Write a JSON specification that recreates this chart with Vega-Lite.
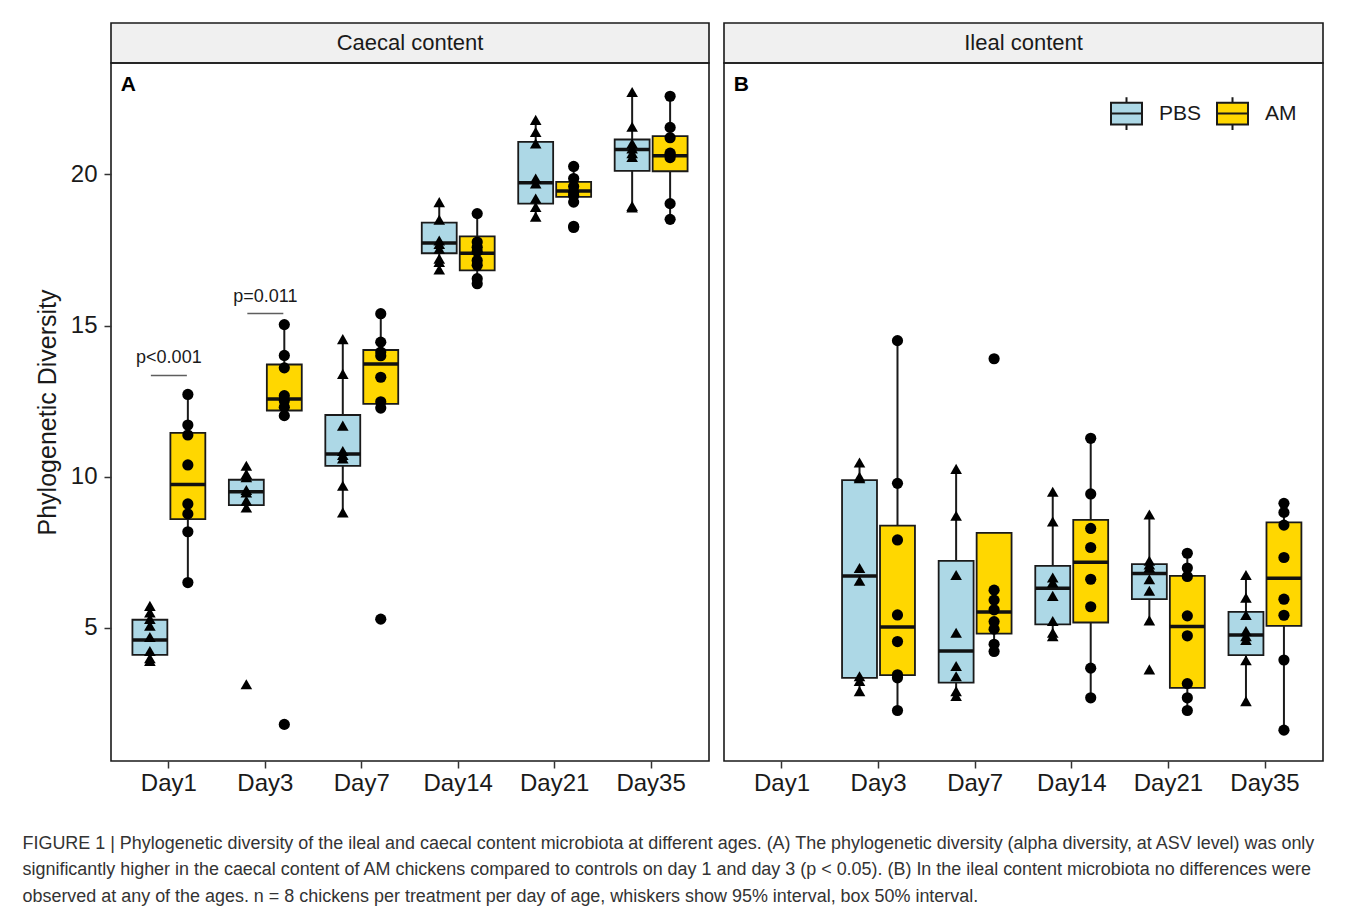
{
  "$schema": "https://vega.github.io/schema/vega-lite/v6.json",
  "background": "white",
  "padding": {"left": 22, "top": 22, "right": 30, "bottom": 5},
  "config": {
    "font": "Liberation Sans",
    "view": {"stroke": "#1a1a1a", "strokeWidth": 1.6},
    "axis": {"grid": false, "domain": false, "tickColor": "#333333", "tickWidth": 1.5, "tickSize": 7, "labelColor": "#1a1a1a", "labelFont": "Liberation Sans", "titleFont": "Liberation Sans"},
    "axisY": {"tickCount": 5, "labelFontSize": 24, "labelPadding": 7, "tickSize": 7, "titleFontSize": 25, "titleFontWeight": "normal", "titleColor": "#1a1a1a", "titlePadding": 10},
    "legend": {"labelFont": "Liberation Sans"}
  },
  "title": {
    "text": [
      "FIGURE 1 | Phylogenetic diversity of the ileal and caecal content microbiota at different ages. (A) The phylogenetic diversity (alpha diversity, at ASV level) was only",
      "significantly higher in the caecal content of AM chickens compared to controls on day 1 and day 3 (p < 0.05). (B) In the ileal content microbiota no differences were",
      "observed at any of the ages. n = 8 chickens per treatment per day of age, whiskers show 95% interval, box 50% interval."
    ],
    "orient": "bottom",
    "anchor": "start",
    "frame": "bounds",
    "font": "Liberation Sans",
    "fontSize": 17.95,
    "fontWeight": "normal",
    "color": "#333333",
    "lineHeight": 26.7,
    "offset": 39,
    "dx": -12
  },
  "datasets": {
    "box": [
      {"panel": "A", "day": "Day1", "group": "PBS", "lo": 3.91, "q1": 4.11, "med": 4.60, "q3": 5.27, "hi": 5.73},
      {"panel": "A", "day": "Day1", "group": "AM", "lo": 6.50, "q1": 8.60, "med": 9.74, "q3": 11.45, "hi": 12.72},
      {"panel": "A", "day": "Day3", "group": "PBS", "lo": 8.98, "q1": 9.06, "med": 9.50, "q3": 9.90, "hi": 10.36},
      {"panel": "A", "day": "Day3", "group": "AM", "lo": 12.02, "q1": 12.19, "med": 12.57, "q3": 13.71, "hi": 15.03},
      {"panel": "A", "day": "Day7", "group": "PBS", "lo": 8.82, "q1": 10.36, "med": 10.75, "q3": 12.04, "hi": 14.55},
      {"panel": "A", "day": "Day7", "group": "AM", "lo": 12.27, "q1": 12.41, "med": 13.73, "q3": 14.19, "hi": 15.39},
      {"panel": "A", "day": "Day14", "group": "PBS", "lo": 16.85, "q1": 17.39, "med": 17.73, "q3": 18.40, "hi": 19.08},
      {"panel": "A", "day": "Day14", "group": "AM", "lo": 16.38, "q1": 16.82, "med": 17.39, "q3": 17.95, "hi": 18.70},
      {"panel": "A", "day": "Day21", "group": "PBS", "lo": 18.60, "q1": 19.03, "med": 19.72, "q3": 21.07, "hi": 21.80},
      {"panel": "A", "day": "Day21", "group": "AM", "lo": 19.08, "q1": 19.25, "med": 19.45, "q3": 19.75, "hi": 20.26},
      {"panel": "A", "day": "Day35", "group": "PBS", "lo": 18.90, "q1": 20.11, "med": 20.82, "q3": 21.15, "hi": 22.72},
      {"panel": "A", "day": "Day35", "group": "AM", "lo": 18.51, "q1": 20.10, "med": 20.61, "q3": 21.26, "hi": 22.58},
      {"panel": "B", "day": "Day3", "group": "PBS", "lo": 2.91, "q1": 3.35, "med": 6.72, "q3": 9.89, "hi": 10.47},
      {"panel": "B", "day": "Day3", "group": "AM", "lo": 2.27, "q1": 3.44, "med": 5.03, "q3": 8.38, "hi": 14.50},
      {"panel": "B", "day": "Day7", "group": "PBS", "lo": 2.75, "q1": 3.19, "med": 4.24, "q3": 7.22, "hi": 10.26},
      {"panel": "B", "day": "Day7", "group": "AM", "lo": 4.22, "q1": 4.81, "med": 5.53, "q3": 8.14, "hi": 8.14},
      {"panel": "B", "day": "Day14", "group": "PBS", "lo": 4.73, "q1": 5.12, "med": 6.31, "q3": 7.05, "hi": 9.50},
      {"panel": "B", "day": "Day14", "group": "AM", "lo": 2.69, "q1": 5.18, "med": 7.17, "q3": 8.57, "hi": 11.27},
      {"panel": "B", "day": "Day21", "group": "PBS", "lo": 5.25, "q1": 5.95, "med": 6.80, "q3": 7.11, "hi": 8.75},
      {"panel": "B", "day": "Day21", "group": "AM", "lo": 2.27, "q1": 3.02, "med": 5.05, "q3": 6.72, "hi": 7.47},
      {"panel": "B", "day": "Day35", "group": "PBS", "lo": 2.58, "q1": 4.10, "med": 4.77, "q3": 5.53, "hi": 6.75},
      {"panel": "B", "day": "Day35", "group": "AM", "lo": 1.62, "q1": 5.07, "med": 6.64, "q3": 8.49, "hi": 9.12}
    ],
    "pts": [
      {"panel": "A", "day": "Day1", "group": "PBS", "value": 5.73},
      {"panel": "A", "day": "Day1", "group": "PBS", "value": 5.51},
      {"panel": "A", "day": "Day1", "group": "PBS", "value": 5.30},
      {"panel": "A", "day": "Day1", "group": "PBS", "value": 5.07},
      {"panel": "A", "day": "Day1", "group": "PBS", "value": 4.70},
      {"panel": "A", "day": "Day1", "group": "PBS", "value": 4.24},
      {"panel": "A", "day": "Day1", "group": "PBS", "value": 4.00},
      {"panel": "A", "day": "Day1", "group": "PBS", "value": 3.91},
      {"panel": "A", "day": "Day1", "group": "AM", "value": 12.72},
      {"panel": "A", "day": "Day1", "group": "AM", "value": 11.71},
      {"panel": "A", "day": "Day1", "group": "AM", "value": 11.38},
      {"panel": "A", "day": "Day1", "group": "AM", "value": 10.39},
      {"panel": "A", "day": "Day1", "group": "AM", "value": 9.10},
      {"panel": "A", "day": "Day1", "group": "AM", "value": 8.77},
      {"panel": "A", "day": "Day1", "group": "AM", "value": 8.18},
      {"panel": "A", "day": "Day1", "group": "AM", "value": 6.50},
      {"panel": "A", "day": "Day3", "group": "PBS", "value": 10.36},
      {"panel": "A", "day": "Day3", "group": "PBS", "value": 10.09},
      {"panel": "A", "day": "Day3", "group": "PBS", "value": 9.98},
      {"panel": "A", "day": "Day3", "group": "PBS", "value": 9.56},
      {"panel": "A", "day": "Day3", "group": "PBS", "value": 9.48},
      {"panel": "A", "day": "Day3", "group": "PBS", "value": 9.21},
      {"panel": "A", "day": "Day3", "group": "PBS", "value": 8.98},
      {"panel": "A", "day": "Day3", "group": "PBS", "value": 3.14},
      {"panel": "A", "day": "Day3", "group": "AM", "value": 15.03},
      {"panel": "A", "day": "Day3", "group": "AM", "value": 14.01},
      {"panel": "A", "day": "Day3", "group": "AM", "value": 13.60},
      {"panel": "A", "day": "Day3", "group": "AM", "value": 12.68},
      {"panel": "A", "day": "Day3", "group": "AM", "value": 12.52},
      {"panel": "A", "day": "Day3", "group": "AM", "value": 12.30},
      {"panel": "A", "day": "Day3", "group": "AM", "value": 12.02},
      {"panel": "A", "day": "Day3", "group": "AM", "value": 1.81},
      {"panel": "A", "day": "Day7", "group": "PBS", "value": 14.55},
      {"panel": "A", "day": "Day7", "group": "PBS", "value": 13.40},
      {"panel": "A", "day": "Day7", "group": "PBS", "value": 11.69},
      {"panel": "A", "day": "Day7", "group": "PBS", "value": 10.85},
      {"panel": "A", "day": "Day7", "group": "PBS", "value": 10.72},
      {"panel": "A", "day": "Day7", "group": "PBS", "value": 10.60},
      {"panel": "A", "day": "Day7", "group": "PBS", "value": 9.70},
      {"panel": "A", "day": "Day7", "group": "PBS", "value": 8.82},
      {"panel": "A", "day": "Day7", "group": "AM", "value": 15.39},
      {"panel": "A", "day": "Day7", "group": "AM", "value": 14.45},
      {"panel": "A", "day": "Day7", "group": "AM", "value": 14.12},
      {"panel": "A", "day": "Day7", "group": "AM", "value": 14.00},
      {"panel": "A", "day": "Day7", "group": "AM", "value": 13.29},
      {"panel": "A", "day": "Day7", "group": "AM", "value": 12.48},
      {"panel": "A", "day": "Day7", "group": "AM", "value": 12.27},
      {"panel": "A", "day": "Day7", "group": "AM", "value": 5.29},
      {"panel": "A", "day": "Day14", "group": "PBS", "value": 19.08},
      {"panel": "A", "day": "Day14", "group": "PBS", "value": 18.50},
      {"panel": "A", "day": "Day14", "group": "PBS", "value": 17.81},
      {"panel": "A", "day": "Day14", "group": "PBS", "value": 17.70},
      {"panel": "A", "day": "Day14", "group": "PBS", "value": 17.54},
      {"panel": "A", "day": "Day14", "group": "PBS", "value": 17.21},
      {"panel": "A", "day": "Day14", "group": "PBS", "value": 17.10},
      {"panel": "A", "day": "Day14", "group": "PBS", "value": 16.85},
      {"panel": "A", "day": "Day14", "group": "AM", "value": 18.70},
      {"panel": "A", "day": "Day14", "group": "AM", "value": 17.76},
      {"panel": "A", "day": "Day14", "group": "AM", "value": 17.59},
      {"panel": "A", "day": "Day14", "group": "AM", "value": 17.45},
      {"panel": "A", "day": "Day14", "group": "AM", "value": 17.15},
      {"panel": "A", "day": "Day14", "group": "AM", "value": 16.99},
      {"panel": "A", "day": "Day14", "group": "AM", "value": 16.55},
      {"panel": "A", "day": "Day14", "group": "AM", "value": 16.38},
      {"panel": "A", "day": "Day21", "group": "PBS", "value": 21.80},
      {"panel": "A", "day": "Day21", "group": "PBS", "value": 21.40},
      {"panel": "A", "day": "Day21", "group": "PBS", "value": 21.02},
      {"panel": "A", "day": "Day21", "group": "PBS", "value": 19.86},
      {"panel": "A", "day": "Day21", "group": "PBS", "value": 19.70},
      {"panel": "A", "day": "Day21", "group": "PBS", "value": 19.20},
      {"panel": "A", "day": "Day21", "group": "PBS", "value": 18.92},
      {"panel": "A", "day": "Day21", "group": "PBS", "value": 18.60},
      {"panel": "A", "day": "Day21", "group": "AM", "value": 20.26},
      {"panel": "A", "day": "Day21", "group": "AM", "value": 19.86},
      {"panel": "A", "day": "Day21", "group": "AM", "value": 19.60},
      {"panel": "A", "day": "Day21", "group": "AM", "value": 19.40},
      {"panel": "A", "day": "Day21", "group": "AM", "value": 19.30},
      {"panel": "A", "day": "Day21", "group": "AM", "value": 19.08},
      {"panel": "A", "day": "Day21", "group": "AM", "value": 18.28},
      {"panel": "A", "day": "Day21", "group": "AM", "value": 18.24},
      {"panel": "A", "day": "Day35", "group": "PBS", "value": 22.72},
      {"panel": "A", "day": "Day35", "group": "PBS", "value": 21.57},
      {"panel": "A", "day": "Day35", "group": "PBS", "value": 21.02},
      {"panel": "A", "day": "Day35", "group": "PBS", "value": 20.85},
      {"panel": "A", "day": "Day35", "group": "PBS", "value": 20.70},
      {"panel": "A", "day": "Day35", "group": "PBS", "value": 20.57},
      {"panel": "A", "day": "Day35", "group": "PBS", "value": 18.95},
      {"panel": "A", "day": "Day35", "group": "PBS", "value": 18.90},
      {"panel": "A", "day": "Day35", "group": "AM", "value": 22.58},
      {"panel": "A", "day": "Day35", "group": "AM", "value": 21.55},
      {"panel": "A", "day": "Day35", "group": "AM", "value": 21.21},
      {"panel": "A", "day": "Day35", "group": "AM", "value": 20.70},
      {"panel": "A", "day": "Day35", "group": "AM", "value": 20.65},
      {"panel": "A", "day": "Day35", "group": "AM", "value": 20.55},
      {"panel": "A", "day": "Day35", "group": "AM", "value": 19.03},
      {"panel": "A", "day": "Day35", "group": "AM", "value": 18.51},
      {"panel": "B", "day": "Day3", "group": "PBS", "value": 10.47},
      {"panel": "B", "day": "Day3", "group": "PBS", "value": 10.00},
      {"panel": "B", "day": "Day3", "group": "PBS", "value": 9.95},
      {"panel": "B", "day": "Day3", "group": "PBS", "value": 6.98},
      {"panel": "B", "day": "Day3", "group": "PBS", "value": 6.56},
      {"panel": "B", "day": "Day3", "group": "PBS", "value": 3.40},
      {"panel": "B", "day": "Day3", "group": "PBS", "value": 3.25},
      {"panel": "B", "day": "Day3", "group": "PBS", "value": 2.91},
      {"panel": "B", "day": "Day3", "group": "AM", "value": 14.50},
      {"panel": "B", "day": "Day3", "group": "AM", "value": 9.78},
      {"panel": "B", "day": "Day3", "group": "AM", "value": 7.91},
      {"panel": "B", "day": "Day3", "group": "AM", "value": 5.43},
      {"panel": "B", "day": "Day3", "group": "AM", "value": 4.55},
      {"panel": "B", "day": "Day3", "group": "AM", "value": 3.45},
      {"panel": "B", "day": "Day3", "group": "AM", "value": 3.35},
      {"panel": "B", "day": "Day3", "group": "AM", "value": 2.27},
      {"panel": "B", "day": "Day7", "group": "PBS", "value": 10.26},
      {"panel": "B", "day": "Day7", "group": "PBS", "value": 8.71},
      {"panel": "B", "day": "Day7", "group": "PBS", "value": 6.75},
      {"panel": "B", "day": "Day7", "group": "PBS", "value": 4.84},
      {"panel": "B", "day": "Day7", "group": "PBS", "value": 3.74},
      {"panel": "B", "day": "Day7", "group": "PBS", "value": 3.40},
      {"panel": "B", "day": "Day7", "group": "PBS", "value": 2.91},
      {"panel": "B", "day": "Day7", "group": "PBS", "value": 2.75},
      {"panel": "B", "day": "Day7", "group": "AM", "value": 13.90},
      {"panel": "B", "day": "Day7", "group": "AM", "value": 6.25},
      {"panel": "B", "day": "Day7", "group": "AM", "value": 5.92},
      {"panel": "B", "day": "Day7", "group": "AM", "value": 5.60},
      {"panel": "B", "day": "Day7", "group": "AM", "value": 5.21},
      {"panel": "B", "day": "Day7", "group": "AM", "value": 4.96},
      {"panel": "B", "day": "Day7", "group": "AM", "value": 4.46},
      {"panel": "B", "day": "Day7", "group": "AM", "value": 4.22},
      {"panel": "B", "day": "Day14", "group": "PBS", "value": 9.50},
      {"panel": "B", "day": "Day14", "group": "PBS", "value": 8.52},
      {"panel": "B", "day": "Day14", "group": "PBS", "value": 6.67},
      {"panel": "B", "day": "Day14", "group": "PBS", "value": 6.50},
      {"panel": "B", "day": "Day14", "group": "PBS", "value": 6.06},
      {"panel": "B", "day": "Day14", "group": "PBS", "value": 5.23},
      {"panel": "B", "day": "Day14", "group": "PBS", "value": 4.84},
      {"panel": "B", "day": "Day14", "group": "PBS", "value": 4.73},
      {"panel": "B", "day": "Day14", "group": "AM", "value": 11.27},
      {"panel": "B", "day": "Day14", "group": "AM", "value": 9.43},
      {"panel": "B", "day": "Day14", "group": "AM", "value": 8.29},
      {"panel": "B", "day": "Day14", "group": "AM", "value": 7.66},
      {"panel": "B", "day": "Day14", "group": "AM", "value": 6.61},
      {"panel": "B", "day": "Day14", "group": "AM", "value": 5.70},
      {"panel": "B", "day": "Day14", "group": "AM", "value": 3.67},
      {"panel": "B", "day": "Day14", "group": "AM", "value": 2.69},
      {"panel": "B", "day": "Day21", "group": "PBS", "value": 8.75},
      {"panel": "B", "day": "Day21", "group": "PBS", "value": 7.22},
      {"panel": "B", "day": "Day21", "group": "PBS", "value": 7.10},
      {"panel": "B", "day": "Day21", "group": "PBS", "value": 7.00},
      {"panel": "B", "day": "Day21", "group": "PBS", "value": 6.61},
      {"panel": "B", "day": "Day21", "group": "PBS", "value": 6.23},
      {"panel": "B", "day": "Day21", "group": "PBS", "value": 5.25},
      {"panel": "B", "day": "Day21", "group": "PBS", "value": 3.63},
      {"panel": "B", "day": "Day21", "group": "AM", "value": 7.47},
      {"panel": "B", "day": "Day21", "group": "AM", "value": 6.98},
      {"panel": "B", "day": "Day21", "group": "AM", "value": 6.70},
      {"panel": "B", "day": "Day21", "group": "AM", "value": 5.40},
      {"panel": "B", "day": "Day21", "group": "AM", "value": 4.74},
      {"panel": "B", "day": "Day21", "group": "AM", "value": 3.16},
      {"panel": "B", "day": "Day21", "group": "AM", "value": 2.69},
      {"panel": "B", "day": "Day21", "group": "AM", "value": 2.27},
      {"panel": "B", "day": "Day35", "group": "PBS", "value": 6.75},
      {"panel": "B", "day": "Day35", "group": "PBS", "value": 6.00},
      {"panel": "B", "day": "Day35", "group": "PBS", "value": 5.43},
      {"panel": "B", "day": "Day35", "group": "PBS", "value": 4.90},
      {"panel": "B", "day": "Day35", "group": "PBS", "value": 4.73},
      {"panel": "B", "day": "Day35", "group": "PBS", "value": 4.60},
      {"panel": "B", "day": "Day35", "group": "PBS", "value": 3.93},
      {"panel": "B", "day": "Day35", "group": "PBS", "value": 2.58},
      {"panel": "B", "day": "Day35", "group": "AM", "value": 9.12},
      {"panel": "B", "day": "Day35", "group": "AM", "value": 8.82},
      {"panel": "B", "day": "Day35", "group": "AM", "value": 8.40},
      {"panel": "B", "day": "Day35", "group": "AM", "value": 7.33},
      {"panel": "B", "day": "Day35", "group": "AM", "value": 5.95},
      {"panel": "B", "day": "Day35", "group": "AM", "value": 5.42},
      {"panel": "B", "day": "Day35", "group": "AM", "value": 3.94},
      {"panel": "B", "day": "Day35", "group": "AM", "value": 1.62}
    ],
    "notes": [
      {"day": "Day1", "label": "p<0.001", "texty": 13.94, "liney": 13.35},
      {"day": "Day3", "label": "p=0.011", "texty": 15.93, "liney": 15.40}
    ]
  },
  "spacing": 13,
  "resolve": {"scale": {"y": "independent", "x": "independent", "fill": "independent"}, "legend": {"fill": "independent"}},
  "hconcat": [
    {
      "bounds": "flush",
      "spacing": 0,
      "resolve": {"scale": {"fill": "independent"}, "legend": {"fill": "independent"}},
      "vconcat": [
        {
          "width": 598,
          "height": 40,
          "data": {"values": [{"label": "Caecal content"}]},
          "view": {"fill": "#f0f0f0", "stroke": "#1a1a1a", "strokeWidth": 1.6},
          "mark": {"type": "text", "font": "Liberation Sans", "fontSize": 22, "color": "#1a1a1a", "baseline": "middle"},
          "encoding": {"text": {"field": "label", "type": "nominal"}}
        },
        {
          "width": 598,
          "height": 698,
          "encoding": {
            "x": {"field": "day", "type": "nominal", "title": null,
              "scale": {"domain": ["Day1", "Day3", "Day7", "Day14", "Day21", "Day35"], "paddingInner": 0, "paddingOuter": 0.1},
              "axis": {"labelFontSize": 24, "labelAngle": 0, "labelPadding": 3, "tickSize": 7}}
          },
          "layer": [
            {
              "data": {"name": "box"},
              "transform": [{"filter": "datum.panel === 'A'"}],
              "mark": {"type": "rule", "strokeWidth": 2, "color": "#1a1a1a"},
              "encoding": {
                "xOffset": {"field": "group", "type": "nominal", "scale": {"domain": ["PBS", "AM"], "paddingInner": 0.08, "paddingOuter": 0.31}},
                "y": {"field": "lo", "type": "quantitative", "title": "Phylogenetic Diversity",
                  "scale": {"domain": [0.6, 23.68], "nice": false, "zero": false}, "axis": {"values": [5, 10, 15, 20]}},
                "y2": {"field": "hi"}
              }
            },
            {
              "data": {"name": "box"},
              "transform": [{"filter": "datum.panel === 'A'"}],
              "mark": {"type": "bar", "stroke": "#1a1a1a", "strokeWidth": 1.8},
              "encoding": {
                "xOffset": {"field": "group", "type": "nominal", "scale": {"domain": ["PBS", "AM"], "paddingInner": 0.08, "paddingOuter": 0.31}},
                "y": {"field": "q1", "type": "quantitative", "title": "Phylogenetic Diversity", "axis": {"values": [5, 10, 15, 20]}},
                "y2": {"field": "q3"},
                "fill": {"field": "group", "type": "nominal", "scale": {"domain": ["PBS", "AM"], "range": ["#add8e6", "#ffd700"]}, "legend": null}
              }
            },
            {
              "data": {"name": "box"},
              "transform": [{"filter": "datum.panel === 'A'"}],
              "mark": {"type": "tick", "thickness": 3.5, "size": 35, "color": "#111111", "opacity": 1},
              "encoding": {
                "xOffset": {"field": "group", "type": "nominal", "scale": {"domain": ["PBS", "AM"], "paddingInner": 0.08, "paddingOuter": 0.31}},
                "y": {"field": "med", "type": "quantitative", "title": "Phylogenetic Diversity", "axis": {"values": [5, 10, 15, 20]}}
              }
            },
            {
              "data": {"name": "pts"},
              "transform": [{"filter": "datum.panel === 'A' && datum.group === 'PBS'"}],
              "mark": {"type": "point", "shape": "triangle-up", "filled": true, "color": "#000000", "opacity": 1, "size": 135},
              "encoding": {
                "xOffset": {"field": "group", "type": "nominal", "scale": {"domain": ["PBS", "AM"], "paddingInner": 0.08, "paddingOuter": 0.31}},
                "y": {"field": "value", "type": "quantitative", "title": "Phylogenetic Diversity", "axis": {"values": [5, 10, 15, 20]}}
              }
            },
            {
              "data": {"name": "pts"},
              "transform": [{"filter": "datum.panel === 'A' && datum.group === 'AM'"}],
              "mark": {"type": "point", "shape": "circle", "filled": true, "color": "#000000", "opacity": 1, "size": 125},
              "encoding": {
                "xOffset": {"field": "group", "type": "nominal", "scale": {"domain": ["PBS", "AM"], "paddingInner": 0.08, "paddingOuter": 0.31}},
                "y": {"field": "value", "type": "quantitative", "title": "Phylogenetic Diversity", "axis": {"values": [5, 10, 15, 20]}}
              }
            },
            {
              "data": {"name": "notes"},
              "mark": {"type": "text", "font": "Liberation Sans", "fontSize": 18, "color": "#1a1a1a", "baseline": "middle"},
              "encoding": {
                "y": {"field": "texty", "type": "quantitative", "title": "Phylogenetic Diversity", "axis": {"values": [5, 10, 15, 20]}},
                "text": {"field": "label", "type": "nominal"}
              }
            },
            {
              "data": {"name": "notes"},
              "mark": {"type": "tick", "size": 36, "thickness": 1.5, "color": "#1a1a1a"},
              "encoding": {
                "y": {"field": "liney", "type": "quantitative", "title": "Phylogenetic Diversity", "axis": {"values": [5, 10, 15, 20]}}
              }
            },
            {
              "data": {"values": [{"day": "Day1", "label": "A"}]},
              "mark": {"type": "text", "font": "Liberation Sans", "fontSize": 21, "fontWeight": "bold", "color": "#000000", "align": "left", "baseline": "middle"},
              "encoding": {
                "x": {"field": "day", "type": "nominal", "bandPosition": 0},
                "y": {"datum": 22.95, "type": "quantitative", "title": "Phylogenetic Diversity", "axis": {"values": [5, 10, 15, 20]}},
                "text": {"field": "label", "type": "nominal"}
              }
            }
          ]
        }
      ]
    },
    {
      "bounds": "flush",
      "spacing": 0,
      "resolve": {"scale": {"fill": "independent"}, "legend": {"fill": "independent"}},
      "vconcat": [
        {
          "width": 599,
          "height": 40,
          "data": {"values": [{"label": "Ileal content"}]},
          "view": {"fill": "#f0f0f0", "stroke": "#1a1a1a", "strokeWidth": 1.6},
          "mark": {"type": "text", "font": "Liberation Sans", "fontSize": 22, "color": "#1a1a1a", "baseline": "middle"},
          "encoding": {"text": {"field": "label", "type": "nominal"}}
        },
        {
          "width": 599,
          "height": 698,
          "encoding": {
            "x": {"field": "day", "type": "nominal", "title": null,
              "scale": {"domain": ["Day1", "Day3", "Day7", "Day14", "Day21", "Day35"], "paddingInner": 0, "paddingOuter": 0.1},
              "axis": {"labelFontSize": 24, "labelAngle": 0, "labelPadding": 3, "tickSize": 7}}
          },
          "layer": [
            {
              "data": {"name": "box"},
              "transform": [{"filter": "datum.panel === 'B'"}],
              "mark": {"type": "rule", "strokeWidth": 2, "color": "#1a1a1a"},
              "encoding": {
                "xOffset": {"field": "group", "type": "nominal", "scale": {"domain": ["PBS", "AM"], "paddingInner": 0.08, "paddingOuter": 0.31}},
                "y": {"field": "lo", "type": "quantitative", "scale": {"domain": [0.6, 23.68], "nice": false, "zero": false}, "axis": null},
                "y2": {"field": "hi"}
              }
            },
            {
              "data": {"name": "box"},
              "transform": [{"filter": "datum.panel === 'B'"}],
              "mark": {"type": "bar", "stroke": "#1a1a1a", "strokeWidth": 1.8},
              "encoding": {
                "xOffset": {"field": "group", "type": "nominal", "scale": {"domain": ["PBS", "AM"], "paddingInner": 0.08, "paddingOuter": 0.31}},
                "y": {"field": "q1", "type": "quantitative", "axis": null},
                "y2": {"field": "q3"},
                "fill": {"field": "group", "type": "nominal", "scale": {"domain": ["PBS", "AM"], "range": ["#add8e6", "#ffd700"]},
                  "legend": {"orient": "none", "legendX": 386, "legendY": 34, "direction": "horizontal", "title": null,
                    "symbolType": "M-1,-0.7H1V0.7H-1Z M-1,0H1 M0,-0.7V-1.05 M0,0.7V1.05",
                    "symbolSize": 961, "symbolStrokeColor": "#1a1a1a", "symbolStrokeWidth": 2, "symbolOpacity": 1,
                    "labelFontSize": 21, "labelColor": "#1a1a1a", "labelOffset": 16, "columnPadding": 11}}
              }
            },
            {
              "data": {"name": "box"},
              "transform": [{"filter": "datum.panel === 'B'"}],
              "mark": {"type": "tick", "thickness": 3.5, "size": 35, "color": "#111111", "opacity": 1},
              "encoding": {
                "xOffset": {"field": "group", "type": "nominal", "scale": {"domain": ["PBS", "AM"], "paddingInner": 0.08, "paddingOuter": 0.31}},
                "y": {"field": "med", "type": "quantitative", "axis": null}
              }
            },
            {
              "data": {"name": "pts"},
              "transform": [{"filter": "datum.panel === 'B' && datum.group === 'PBS'"}],
              "mark": {"type": "point", "shape": "triangle-up", "filled": true, "color": "#000000", "opacity": 1, "size": 135},
              "encoding": {
                "xOffset": {"field": "group", "type": "nominal", "scale": {"domain": ["PBS", "AM"], "paddingInner": 0.08, "paddingOuter": 0.31}},
                "y": {"field": "value", "type": "quantitative", "axis": null}
              }
            },
            {
              "data": {"name": "pts"},
              "transform": [{"filter": "datum.panel === 'B' && datum.group === 'AM'"}],
              "mark": {"type": "point", "shape": "circle", "filled": true, "color": "#000000", "opacity": 1, "size": 125},
              "encoding": {
                "xOffset": {"field": "group", "type": "nominal", "scale": {"domain": ["PBS", "AM"], "paddingInner": 0.08, "paddingOuter": 0.31}},
                "y": {"field": "value", "type": "quantitative", "axis": null}
              }
            },
            {
              "data": {"values": [{"day": "Day1", "label": "B"}]},
              "mark": {"type": "text", "font": "Liberation Sans", "fontSize": 21, "fontWeight": "bold", "color": "#000000", "align": "left", "baseline": "middle"},
              "encoding": {
                "x": {"field": "day", "type": "nominal", "bandPosition": 0},
                "y": {"datum": 22.95, "type": "quantitative", "axis": null},
                "text": {"field": "label", "type": "nominal"}
              }
            }
          ]
        }
      ]
    }
  ]
}
